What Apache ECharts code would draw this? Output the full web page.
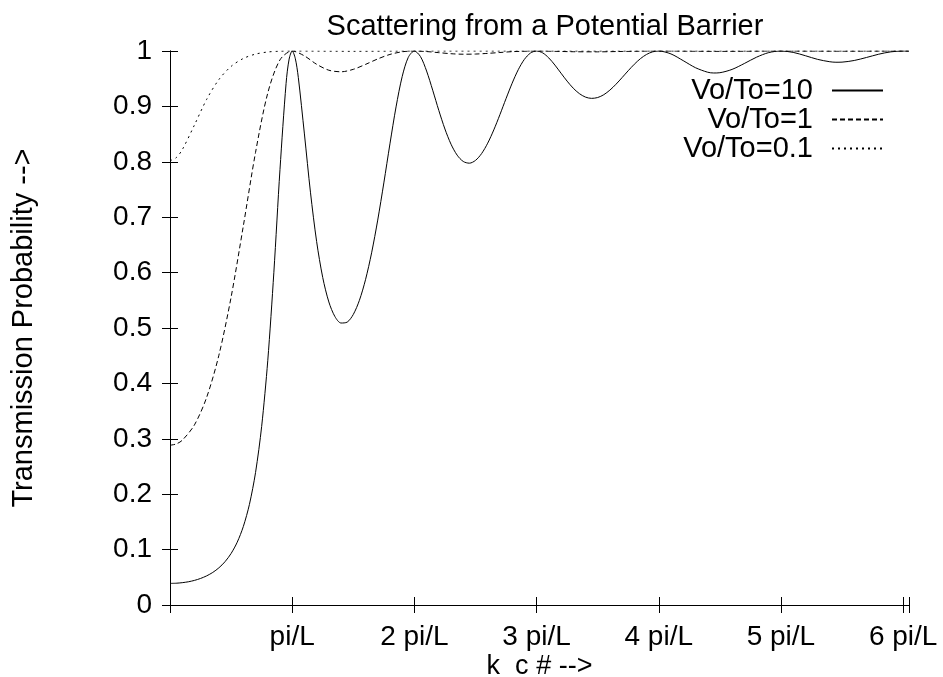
<!DOCTYPE html>
<html>
<head>
<meta charset="utf-8">
<script src="https://cdn.jsdelivr.net/npm/echarts@6/dist/echarts.min.js"></script>
<style>
html,body{margin:0;padding:0;background:#fff;}
#chart{width:943px;height:677px;}
</style>
</head>
<body>
<div id="chart"></div>
<script>
// k_c in units of pi/L
var kc10 = [0,0.05,0.1,0.15,0.2,0.25,0.3,0.35,0.4,0.45,0.5,0.55,0.6,0.65,0.7,0.75,0.8,0.85,0.9,0.95,0.975,1,1.025,1.05,1.1,1.15,1.2,1.25,1.3,1.35,1.4,1.45,1.5,1.55,1.6,1.65,1.7,1.75,1.8,1.85,1.9,1.95,2,2.05,2.1,2.15,2.2,2.25,2.3,2.35,2.4,2.45,2.5,2.55,2.6,2.65,2.7,2.75,2.8,2.85,2.9,2.95,3,3.05,3.1,3.15,3.2,3.25,3.3,3.35,3.4,3.45,3.5,3.55,3.6,3.65,3.7,3.75,3.8,3.85,3.9,3.95,4,4.1,4.2,4.3,4.4,4.45,4.5,4.6,4.7,4.8,4.9,5,5.1,5.2,5.3,5.4,5.45,5.5,5.6,5.7,5.8,5.9,6,6.048];
var t10 = [0.039,0.0393,0.0403,0.0419,0.0444,0.0479,0.0526,0.0588,0.0671,0.0781,0.093,0.1133,0.1416,0.1816,0.239,0.3222,0.4409,0.6006,0.7858,0.9415,0.9854,1,0.9869,0.9524,0.8503,0.744,0.656,0.5911,0.547,0.5205,0.509,0.5106,0.5244,0.5499,0.5871,0.6357,0.6948,0.7619,0.8324,0.8991,0.9537,0.9885,1,0.9899,0.9638,0.9292,0.8927,0.8592,0.8317,0.812,0.8006,0.7975,0.8025,0.8148,0.8336,0.8576,0.8851,0.914,0.9418,0.9662,0.9848,0.9963,1,0.9966,0.9875,0.9746,0.96,0.9456,0.9329,0.9231,0.9168,0.9145,0.916,0.9211,0.9294,0.94,0.952,0.9644,0.9761,0.9862,0.9938,0.9985,1,0.9947,0.9826,0.9699,0.9617,0.9603,0.9608,0.9668,0.9774,0.9888,0.9971,1,0.9975,0.9915,0.9849,0.9806,0.9797,0.9799,0.9829,0.9883,0.9942,0.9985,1,0.9997];

var kc1 = [0,0.05,0.1,0.2,0.3,0.4,0.5,0.6,0.7,0.8,0.9,1,1.1,1.2,1.3,1.4,1.5,1.6,1.7,1.8,1.9,2,2.1,2.2,2.3,2.4,2.5,2.6,2.7,2.8,3,3.3,3.5,3.7,4,4.5,5,5.5,6,6.048];
var t1 = [0.2884,0.2906,0.2973,0.3251,0.3748,0.4508,0.5556,0.6841,0.8169,0.924,0.984,1,0.9912,0.976,0.9653,0.9625,0.9669,0.9758,0.9857,0.9938,0.9986,1,0.999,0.997,0.9951,0.9942,0.9945,0.9957,0.9973,0.9988,1,0.9987,0.9985,0.9992,1,0.9994,1,0.9997,1,1];

var kc01 = [0,0.05,0.1,0.2,0.3,0.4,0.5,0.6,0.7,0.8,0.9,1,1.5,2,3,4,5,6,6.048];
var t01 = [0.8021,0.8073,0.8217,0.8664,0.9127,0.9484,0.9722,0.9865,0.9944,0.9982,0.9997,1,0.9995,1,1,1,1,1,1];

var seriesNames = ['Vo/To=10','Vo/To=1','Vo/To=0.1'];
var xTickLabels = ['', 'pi/L', '2 pi/L', '3 pi/L', '4 pi/L', '5 pi/L', '6 pi/L'];
var yTickLabels = ['0','0.1','0.2','0.3','0.4','0.5','0.6','0.7','0.8','0.9','1'];
var titleText = 'Scattering from a Potential Barrier';
var xName = 'k_c # -->';
var yName = 'Transmission Probability -->';

function pairs(xs, ys){ return xs.map(function(x,i){ return [x, ys[i]]; }); }

var FONT = 'Liberation Sans';
var XMAX = 6.048;

function xFmt(v){ var r = Math.round(v); return Math.abs(v - r) < 1e-6 && xTickLabels[r] !== undefined ? xTickLabels[r] : ''; }
function yFmt(v){ var r = Math.round(v * 10); return Math.abs(v * 10 - r) < 1e-6 && yTickLabels[r] !== undefined ? yTickLabels[r] : ''; }

var axisLine = { show: true, lineStyle: { color: '#000', width: 1 } };
var axisTick = { show: true, inside: true, length: 8, lineStyle: { color: '#000', width: 1 } };

var chart = echarts.init(document.getElementById('chart'), null, { renderer: 'canvas' });
chart.setOption({
  backgroundColor: '#fff',
  animation: false,
  title: {
    text: titleText, left: 540, top: 7, textAlign: 'center',
    textStyle: { fontFamily: FONT, fontSize: 29, fontWeight: 'normal', color: '#000' }
  },
  grid: { left: 170, right: 34, top: 51, bottom: 72, containLabel: false, outerBoundsMode: 'none' },
  legend: {
    orient: 'vertical', right: 54, top: 71, align: 'right',
    itemWidth: 51, itemHeight: 14, itemGap: 0,
    itemStyle: { opacity: 0 },
    textStyle: { fontFamily: FONT, fontSize: 29, color: '#000', lineHeight: 29, padding: [0, 14, 0, 0] },
    data: seriesNames
  },
  xAxis: [{
    type: 'value', min: 0, max: XMAX, interval: 1, position: 'bottom',
    name: xName, nameLocation: 'middle', nameGap: 48, nameMoveOverlap: false,
    nameTextStyle: { fontFamily: FONT, fontSize: 27, color: '#000' },
    axisLine: axisLine, axisTick: axisTick, splitLine: { show: false },
    axisLabel: { formatter: xFmt, fontFamily: FONT, fontSize: 28, color: '#000', margin: 18 }
  }, {
    type: 'value', min: 0, max: XMAX, interval: 1, position: 'top',
    axisLine: axisLine, axisTick: axisTick, splitLine: { show: false }, axisLabel: { show: false }
  }],
  yAxis: [{
    type: 'value', min: 0, max: 1, interval: 0.1, position: 'left',
    name: yName, nameLocation: 'middle', nameGap: 132, nameMoveOverlap: false,
    nameTextStyle: { fontFamily: FONT, fontSize: 29, color: '#000' },
    axisLine: axisLine, axisTick: axisTick, splitLine: { show: false },
    axisLabel: { formatter: yFmt, fontFamily: FONT, fontSize: 28, color: '#000', margin: 18 }
  }, {
    type: 'value', min: 0, max: 1, interval: 0.1, position: 'right',
    axisLine: axisLine, axisTick: axisTick, splitLine: { show: false }, axisLabel: { show: false }
  }],
  series: [
    { name: seriesNames[0], type: 'line', data: pairs(kc10, t10), symbol: 'none', smooth: 0.3,
      lineStyle: { color: '#000', width: 1, type: 'solid' }, itemStyle: { color: '#000' } },
    { name: seriesNames[1], type: 'line', data: pairs(kc1, t1), symbol: 'none', smooth: 0.3,
      lineStyle: { color: '#000', width: 1, type: [5, 3] }, itemStyle: { color: '#000' } },
    { name: seriesNames[2], type: 'line', data: pairs(kc01, t01), symbol: 'none', smooth: 0.3,
      lineStyle: { color: '#000', width: 1, type: [2, 4] }, itemStyle: { color: '#000' } }
  ]
});
</script>
</body>
</html>
